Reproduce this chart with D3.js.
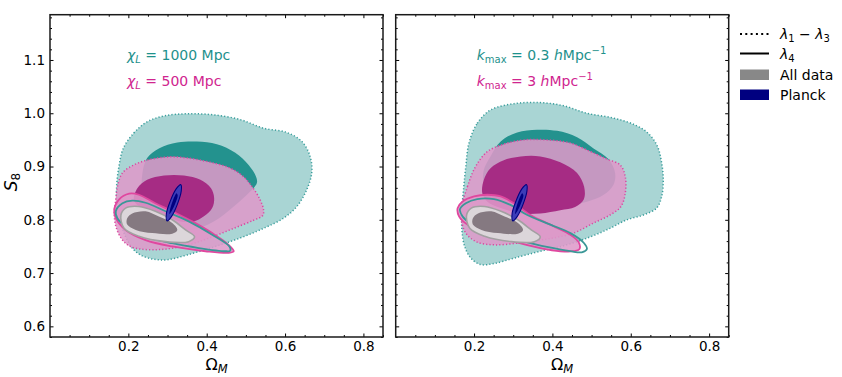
<!DOCTYPE html>
<meta charset="utf-8">
<html>
<head>
<style>
  body { margin: 0; background: #fff; }
  svg text { font-family: "DejaVu Sans", sans-serif; }
  .tick line { stroke: #000; stroke-width: 1; }
  .tick text { font-size: 13.5px; fill: #000; }
</style>
</head>
<body>
<svg width="842" height="377"></svg>
<script src="https://d3js.org/d3.v7.min.js"></script>
<script>

// axis ticks
var xMajor = [0.2, 0.4, 0.6, 0.8];
var yMajor = [0.6, 0.7, 0.8, 0.9, 1.0, 1.1];

// contours, [Omega_M, S_8]
// lambda_1 - lambda_3, chi_L = 1000 Mpc (teal, dotted)
var leftTeal2s = [[0.187,0.934],[0.214,0.963],[0.248,0.984],[0.291,0.995],[0.350,0.999],[0.418,0.997],[0.486,0.988],[0.545,0.972],[0.604,0.964],[0.643,0.947],[0.664,0.919],[0.668,0.888],[0.655,0.856],[0.630,0.825],[0.596,0.803],[0.545,0.784],[0.486,0.766],[0.418,0.749],[0.350,0.734],[0.299,0.725],[0.265,0.726],[0.231,0.734],[0.210,0.747],[0.189,0.775],[0.172,0.825],[0.170,0.862],[0.176,0.900]];
var leftTeal1s = [[0.248,0.916],[0.278,0.934],[0.325,0.945],[0.375,0.947],[0.426,0.942],[0.473,0.926],[0.507,0.903],[0.526,0.881],[0.528,0.869],[0.511,0.853],[0.469,0.825],[0.418,0.797],[0.358,0.781],[0.299,0.788],[0.257,0.812],[0.236,0.850],[0.236,0.888]];
// chi_L = 500 Mpc (magenta, dotted)
var leftPink2s = [[0.164,0.812],[0.168,0.838],[0.172,0.862],[0.185,0.888],[0.214,0.903],[0.248,0.912],[0.299,0.918],[0.350,0.916],[0.409,0.908],[0.460,0.897],[0.494,0.881],[0.519,0.859],[0.536,0.838],[0.545,0.819],[0.543,0.808],[0.519,0.799],[0.469,0.784],[0.418,0.769],[0.367,0.756],[0.316,0.747],[0.274,0.744],[0.231,0.745],[0.202,0.751],[0.181,0.766],[0.168,0.788]];
var leftPink1s = [[0.214,0.838],[0.223,0.859],[0.248,0.875],[0.291,0.883],[0.342,0.883],[0.384,0.875],[0.411,0.859],[0.419,0.841],[0.414,0.822],[0.392,0.806],[0.367,0.797],[0.333,0.797],[0.299,0.806],[0.257,0.819],[0.223,0.828]];
// lambda_4 (solid)
var leftPinkL4 = [[0.164,0.819],[0.176,0.838],[0.202,0.849],[0.227,0.847],[0.269,0.831],[0.312,0.816],[0.363,0.797],[0.414,0.775],[0.456,0.753],[0.469,0.741],[0.456,0.738],[0.397,0.741],[0.312,0.750],[0.244,0.762],[0.193,0.781],[0.168,0.803]];
var leftTealL4 = [[0.168,0.816],[0.185,0.831],[0.210,0.836],[0.244,0.832],[0.295,0.816],[0.354,0.797],[0.414,0.772],[0.458,0.750],[0.460,0.742],[0.447,0.741],[0.380,0.747],[0.312,0.756],[0.244,0.769],[0.193,0.788],[0.172,0.803]];

// k_max = 0.3 h/Mpc (teal, dotted)
var rightTeal2s = [[0.187,0.944],[0.208,0.981],[0.242,1.006],[0.302,1.018],[0.369,1.020],[0.429,1.014],[0.488,1.000],[0.556,0.991],[0.611,0.978],[0.645,0.962],[0.668,0.938],[0.679,0.906],[0.683,0.875],[0.679,0.844],[0.666,0.822],[0.632,0.809],[0.590,0.800],[0.547,0.784],[0.497,0.768],[0.437,0.753],[0.369,0.741],[0.302,0.728],[0.251,0.718],[0.217,0.716],[0.192,0.728],[0.176,0.750],[0.169,0.781],[0.169,0.819],[0.173,0.856],[0.179,0.900]];
var rightTeal1s = [[0.242,0.919],[0.268,0.947],[0.310,0.964],[0.361,0.969],[0.412,0.967],[0.463,0.955],[0.505,0.934],[0.543,0.914],[0.560,0.888],[0.556,0.866],[0.531,0.847],[0.488,0.834],[0.437,0.828],[0.369,0.825],[0.302,0.828],[0.251,0.844],[0.225,0.869],[0.225,0.894]];
// k_max = 3 h/Mpc (magenta, dotted)
var rightPink2s = [[0.166,0.812],[0.183,0.862],[0.204,0.900],[0.234,0.928],[0.276,0.942],[0.327,0.950],[0.386,0.950],[0.446,0.944],[0.497,0.928],[0.539,0.914],[0.573,0.903],[0.586,0.881],[0.586,0.850],[0.575,0.825],[0.547,0.809],[0.505,0.794],[0.454,0.775],[0.403,0.766],[0.361,0.761],[0.310,0.756],[0.251,0.753],[0.208,0.758],[0.179,0.775]];
var rightPink1s = [[0.221,0.850],[0.225,0.875],[0.242,0.897],[0.276,0.912],[0.319,0.919],[0.369,0.919],[0.420,0.908],[0.463,0.888],[0.481,0.862],[0.480,0.838],[0.458,0.824],[0.420,0.818],[0.369,0.812],[0.319,0.812],[0.268,0.822],[0.234,0.834]];
// lambda_4 (solid)
var rightPinkL4 = [[0.158,0.822],[0.170,0.834],[0.200,0.844],[0.234,0.847],[0.268,0.844],[0.302,0.831],[0.344,0.809],[0.403,0.788],[0.446,0.772],[0.467,0.758],[0.469,0.745],[0.454,0.741],[0.420,0.741],[0.369,0.747],[0.302,0.759],[0.234,0.775],[0.183,0.791],[0.162,0.806]];
var rightTealL4 = [[0.164,0.820],[0.179,0.831],[0.208,0.839],[0.251,0.839],[0.293,0.828],[0.336,0.809],[0.395,0.791],[0.446,0.775],[0.481,0.756],[0.488,0.745],[0.475,0.739],[0.446,0.741],[0.386,0.749],[0.319,0.761],[0.251,0.775],[0.196,0.791],[0.171,0.806]];

// all data (grey) and Planck, same in both panels
var allData2s = [[0.181,0.809],[0.193,0.822],[0.227,0.825],[0.269,0.816],[0.312,0.800],[0.346,0.781],[0.369,0.768],[0.354,0.759],[0.295,0.759],[0.227,0.769],[0.189,0.784]];
var allData1s = [[0.197,0.803],[0.210,0.812],[0.244,0.816],[0.278,0.806],[0.312,0.794],[0.325,0.781],[0.312,0.774],[0.261,0.775],[0.219,0.781],[0.197,0.791]];
var planck2s = [[0.334,0.866],[0.335,0.854],[0.325,0.829],[0.310,0.806],[0.299,0.798],[0.297,0.811],[0.307,0.835],[0.322,0.858]];
var planck1s = [[0.323,0.850],[0.326,0.846],[0.320,0.831],[0.311,0.817],[0.305,0.811],[0.306,0.818],[0.312,0.833],[0.320,0.847]];

var teal = "#1e918c", magenta = "#d0258f";

var svg = d3.select("svg");
var W = 333, H = 322.3, top0 = 14.7;

var x = d3.scaleLinear().domain([0, 0.85]).range([0, W]);
var y = d3.scaleLinear().domain([0.58, 1.185]).range([H, 0]);

var shape = d3.line()
    .x(function(d) { return x(d[0]); })
    .y(function(d) { return y(d[1]); })
    .curve(d3.curveCatmullRomClosed.alpha(0.5));

function panel(left, c, showY) {
    var g = svg.append("g").attr("transform", "translate(" + left + "," + top0 + ")");
    var cl = "clip" + Math.round(left);
    g.append("clipPath").attr("id", cl).append("rect").attr("width", W).attr("height", H);
    var p = g.append("g").attr("clip-path", "url(#" + cl + ")");

    // lambda_1 - lambda_3, teal
    p.append("path").attr("d", shape(c.teal2)).attr("fill", "#a9d5d4")
        .attr("stroke", "#3a9e9c").attr("stroke-width", 1.5).attr("stroke-dasharray", "1.2,2.1");
    p.append("path").attr("d", shape(c.teal1)).attr("fill", "#23928e");
    // lambda_1 - lambda_3, magenta
    p.append("path").attr("d", shape(c.pink2)).attr("fill", "rgb(222,153,201)").attr("fill-opacity", 0.87)
        .attr("stroke", "#d9489f").attr("stroke-width", 1.5).attr("stroke-dasharray", "1.2,2.1");
    p.append("path").attr("d", shape(c.pink1)).attr("fill", "#a62c84");
    // lambda_4
    p.append("path").attr("d", shape(c.pinkL4)).attr("fill", "rgb(222,153,201)").attr("fill-opacity", 0.87)
        .attr("stroke", "#e0479f").attr("stroke-width", 1.8);
    p.append("path").attr("d", shape(c.tealL4)).attr("fill", "none")
        .attr("stroke", "#3b9797").attr("stroke-width", 1.8);
    // all data
    p.append("path").attr("d", shape(allData2s)).attr("fill", "#dcd6da")
        .attr("stroke", "#a3a0a2").attr("stroke-width", 1.6);
    p.append("path").attr("d", shape(allData1s)).attr("fill", "#857981");
    // Planck
    p.append("path").attr("d", shape(planck2s)).attr("fill", "#3c3cb8")
        .attr("stroke", "#000080").attr("stroke-width", 1.1);
    p.append("path").attr("d", shape(planck1s)).attr("fill", "#000080");

    // ticks, inward on all sides
    var minorX = d3.range(0.05, 0.86, 0.05).filter(function(v) { return xMajor.every(function(m) { return Math.abs(m - v) > 1e-6; }); });
    var minorY = d3.range(0.58, 1.19, 0.02).filter(function(v) { return yMajor.every(function(m) { return Math.abs(m - v) > 1e-6; }); });

    function ax(a, vals, size, fmt, tr, pad) {
        var gg = g.append("g").attr("transform", tr || null)
            .call(a.tickValues(vals).tickSize(size).tickPadding(pad || 5).tickFormat(fmt));
        gg.select(".domain").remove();
        return gg;
    }
    var f1 = d3.format(".1f");
    ax(d3.axisBottom(x), xMajor, -3.5, f1, "translate(0," + H + ")", 4);
    ax(d3.axisBottom(x), minorX, -2, "", "translate(0," + H + ")");
    ax(d3.axisTop(x), xMajor, -3.5, "");
    ax(d3.axisTop(x), minorX, -2, "");
    ax(d3.axisLeft(y), yMajor, -3.5, showY ? f1 : "");
    ax(d3.axisLeft(y), minorY, -2, "");
    ax(d3.axisRight(y), yMajor, -3.5, "", "translate(" + W + ",0)");
    ax(d3.axisRight(y), minorY, -2, "", "translate(" + W + ",0)");

    g.append("rect").attr("width", W).attr("height", H)
        .attr("fill", "none").attr("stroke", "#1a1a1a").attr("stroke-width", 1.5);

    var xl = g.append("text").attr("x", W / 2).attr("y", 355.5).attr("text-anchor", "middle")
        .attr("font-size", 16).attr("fill", "#000");
    xl.append("tspan").text("Ω");
    xl.append("tspan").attr("font-style", "italic").attr("font-size", 11.5).attr("dy", 3).text("M");
    return g;
}

var gl = panel(50, {teal2: leftTeal2s, teal1: leftTeal1s, pink2: leftPink2s, pink1: leftPink1s, pinkL4: leftPinkL4, tealL4: leftTealL4}, true);
var gr = panel(395.7, {teal2: rightTeal2s, teal1: rightTeal1s, pink2: rightPink2s, pink1: rightPink1s, pinkL4: rightPinkL4, tealL4: rightTealL4}, false);

// y label
var ylab = svg.append("text").attr("transform", "translate(17,182) rotate(-90)")
    .attr("text-anchor", "middle").attr("font-size", 17).attr("fill", "#000");
ylab.append("tspan").attr("font-style", "italic").text("S");
ylab.append("tspan").attr("font-size", 12).attr("dy", 3).text("8");

// annotations
function chiLabel(g, yy, val, col) {
    var t = g.append("text").attr("x", 77).attr("y", yy).attr("font-size", 14).attr("fill", col);
    t.append("tspan").attr("font-style", "italic").text("χ");
    t.append("tspan").attr("font-style", "italic").attr("font-size", 10).attr("dy", 3).text("L");
    t.append("tspan").attr("dy", -3).text(" = " + val + " Mpc");
}
chiLabel(gl, 45, "1000", teal);
chiLabel(gl, 71, "500", magenta);

function kLabel(g, yy, val, col) {
    var t = g.append("text").attr("x", 81).attr("y", yy).attr("font-size", 14).attr("fill", col);
    t.append("tspan").attr("font-style", "italic").text("k");
    t.append("tspan").attr("font-size", 10).attr("dy", 3).text("max");
    t.append("tspan").attr("dy", -3).text(" = " + val + " ");
    t.append("tspan").attr("font-style", "italic").text("h");
    t.append("tspan").text("Mpc");
    t.append("tspan").attr("font-size", 10).attr("dy", -6).text("−1");
}
kLabel(gr, 45, "0.3", teal);
kLabel(gr, 71, "3", magenta);

// legend
var leg = svg.append("g").attr("transform", "translate(740,0)");
leg.append("line").attr("x1", 0).attr("x2", 29).attr("y1", 34).attr("y2", 34)
    .attr("stroke", "#000").attr("stroke-width", 2).attr("stroke-dasharray", "2,3.3");
leg.append("line").attr("x1", 0).attr("x2", 29).attr("y1", 53.5).attr("y2", 53.5)
    .attr("stroke", "#000").attr("stroke-width", 2);
leg.append("rect").attr("x", 0).attr("y", 69.5).attr("width", 29).attr("height", 10.5).attr("fill", "#888888");
leg.append("rect").attr("x", 0).attr("y", 89.5).attr("width", 29).attr("height", 10.5).attr("fill", "#000080");

var l1 = leg.append("text").attr("x", 40).attr("y", 39).attr("font-size", 14);
l1.append("tspan").attr("font-style", "italic").text("λ");
l1.append("tspan").attr("font-size", 10).attr("dy", 3).text("1");
l1.append("tspan").attr("dy", -3).text(" − ");
l1.append("tspan").attr("font-style", "italic").text("λ");
l1.append("tspan").attr("font-size", 10).attr("dy", 3).text("3");
var l2 = leg.append("text").attr("x", 40).attr("y", 58.5).attr("font-size", 14);
l2.append("tspan").attr("font-style", "italic").text("λ");
l2.append("tspan").attr("font-size", 10).attr("dy", 3).text("4");
leg.append("text").attr("x", 40).attr("y", 80).attr("font-size", 14).text("All data");
leg.append("text").attr("x", 40).attr("y", 100).attr("font-size", 14).text("Planck");

</script>
</body>
</html>
